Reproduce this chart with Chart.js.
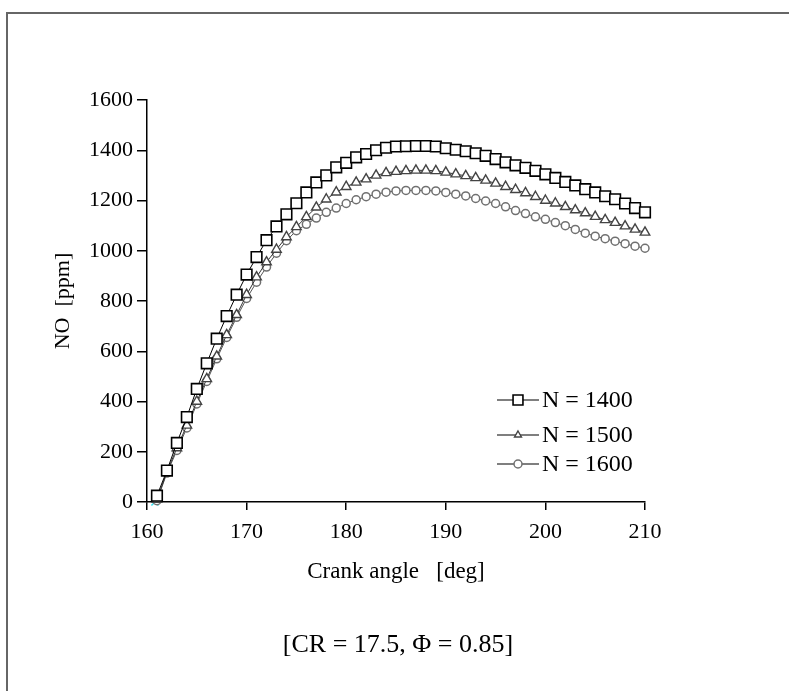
<!DOCTYPE html>
<html>
<head>
<meta charset="utf-8">
<script src="https://cdn.jsdelivr.net/npm/chart.js@4.4.0/dist/chart.umd.min.js"></script>
<style>
  html, body { margin: 0; padding: 0; background: #fff; }
  #wrap { width: 789px; height: 691px; position: relative; }
</style>
</head>
<body>
<div id="wrap"><canvas id="noChart" width="789" height="691"></canvas></div>
<script>
// data (crank angle in deg, NO in ppm)
const angles = [161,162,163,164,165,166,167,168,169,170,171,172,173,174,175,176,177,178,179,180,
  181,182,183,184,185,186,187,188,189,190,191,192,193,194,195,196,197,198,199,200,
  201,202,203,204,205,206,207,208,209,210];
const no1400 = [25,125,235,338,450,552,650,740,825,905,975,1042,1097,1145,1189,1232,1272,1300,1332,1350,
  1372,1385,1400,1410,1415,1416,1417,1417,1415,1408,1402,1396,1388,1378,1365,1352,1340,1330,1318,1304,
  1290,1274,1260,1245,1232,1217,1205,1188,1170,1153];
const no1500 = [10,120,215,305,400,490,580,665,745,825,895,955,1005,1055,1095,1135,1173,1205,1233,1255,
  1272,1285,1300,1310,1315,1318,1320,1320,1318,1312,1305,1298,1290,1280,1268,1255,1243,1230,1215,1200,
  1189,1175,1162,1150,1136,1123,1112,1098,1085,1073];
const no1600 = [5,115,205,295,390,480,570,655,735,810,875,935,990,1040,1080,1105,1130,1153,1170,1188,
  1203,1215,1225,1233,1238,1240,1240,1240,1238,1232,1225,1218,1208,1198,1188,1175,1160,1148,1135,1125,
  1112,1100,1085,1070,1058,1048,1038,1028,1018,1010];
const seriesLabels = ['N = 1400', 'N = 1500', 'N = 1600'];
const yTicks = [0,200,400,600,800,1000,1200,1400,1600];
const xTicks = [160,170,180,190,200,210];
const startMark = [{x: 160.8, y: 0}];

const serif = "'Liberation Serif', 'Times New Roman', serif";

function pts(ys) {
  return angles.map((a, i) => ({x: a, y: ys[i]}));
}

const datasets = [
  {label: seriesLabels[0], data: pts(no1400), borderColor: '#000', borderWidth: 1,
   pointStyle: 'rect', pointRadius: 7.5, pointBorderColor: '#000', pointBackgroundColor: '#fff', pointBorderWidth: 1.6},
  {label: seriesLabels[1], data: pts(no1500), borderColor: '#333', borderWidth: 1,
   pointStyle: 'triangle', pointRadius: 5.5, pointBorderColor: '#444', pointBackgroundColor: '#fff', pointBorderWidth: 1.4},
  {label: seriesLabels[2], data: pts(no1600), borderColor: '#555', borderWidth: 1,
   pointStyle: 'circle', pointRadius: 4, pointBorderColor: '#707070', pointBackgroundColor: '#fff', pointBorderWidth: 1.5},
  {label: '', data: startMark, showLine: false, pointStyle: 'crossRot', pointRadius: 5,
   pointBorderColor: '#33e0f0', pointBorderWidth: 1.5}
];
datasets.forEach(d => { d.clip = false; d.tension = 0; });

// frame, legend and caption
const extras = {
  id: 'extras',
  afterDraw(chart) {
    const ctx = chart.ctx;
    ctx.save();
    ctx.strokeStyle = '#666';
    ctx.lineWidth = 2;
    ctx.strokeRect(7, 13, 820, 720);

    // legend: line - marker - line, then text
    const rows = [400, 435, 464];
    for (let i = 0; i < 3; i++) {
      const ds = chart.data.datasets[i];
      const y = rows[i];
      ctx.strokeStyle = '#000';
      ctx.lineWidth = 1.2;
      ctx.beginPath();
      ctx.moveTo(497, y);
      ctx.lineTo(539, y);
      ctx.stroke();
      ctx.fillStyle = '#fff';
      ctx.strokeStyle = ds.pointBorderColor;
      ctx.lineWidth = ds.pointBorderWidth;
      Chart.helpers.drawPoint(ctx, {pointStyle: ds.pointStyle, radius: i === 0 ? 7 : 4, borderWidth: ds.pointBorderWidth}, 518, y);
      ctx.fillStyle = '#000';
      ctx.font = '24px ' + serif;
      ctx.textBaseline = 'middle';
      ctx.textAlign = 'left';
      ctx.fillText(ds.label, 542, y + 1);
    }

    ctx.fillStyle = '#000';
    ctx.font = '26px ' + serif;
    ctx.textAlign = 'center';
    ctx.textBaseline = 'middle';
    ctx.fillText('[CR = 17.5, \u03A6 = 0.85]', 398, 645);
    ctx.restore();
  }
};

new Chart(document.getElementById('noChart'), {
  type: 'line',
  data: {datasets},
  options: {
    responsive: false,
    animation: false,
    layout: {padding: {left: 50, right: 144, top: 100, bottom: 105}},
    plugins: {legend: {display: false}, tooltip: {enabled: false}},
    scales: {
      x: {
        type: 'linear', min: 160, max: 210,
        afterBuildTicks: s => { s.ticks = xTicks.map(v => ({value: v})); },
        afterFit: s => { s.height = 84; },
        grid: {display: true, drawOnChartArea: false, drawTicks: true, tickLength: 8, color: '#000', lineWidth: 1.5},
        border: {display: true, color: '#000', width: 1.5},
        ticks: {color: '#000', font: {family: serif, size: 22}, padding: 9, maxRotation: 0,
                callback: v => String(v)},
        title: {display: true, text: 'Crank angle   [deg]', color: '#000', font: {family: serif, size: 23}, padding: 0}
      },
      y: {
        type: 'linear', min: 0, max: 1600,
        afterBuildTicks: s => { s.ticks = yTicks.map(v => ({value: v})); },
        afterFit: s => { s.width = 97; },
        grid: {display: true, drawOnChartArea: false, drawTicks: true, tickLength: 10, color: '#000', lineWidth: 1.5},
        border: {display: true, color: '#000', width: 1.5},
        ticks: {color: '#000', font: {family: serif, size: 22}, padding: 4,
                callback: v => String(v)},
        title: {display: true, text: 'NO  [ppm]', color: '#000', font: {family: serif, size: 22}, padding: 0}
      }
    }
  },
  plugins: [extras]
});
</script>
</body>
</html>
